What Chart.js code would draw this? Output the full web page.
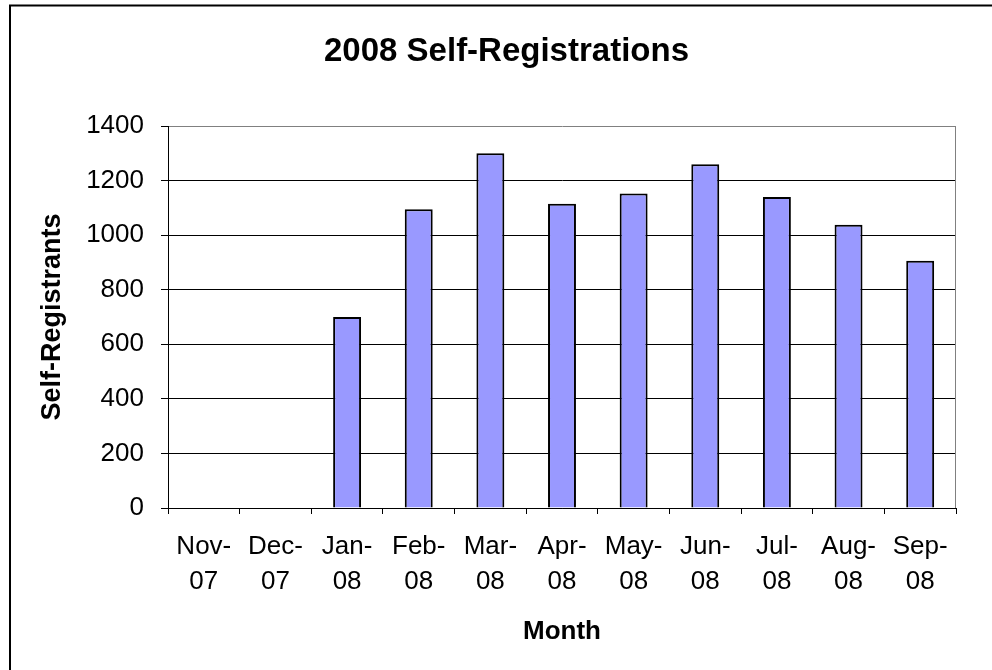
<!DOCTYPE html>
<html>
<head>
<meta charset="utf-8">
<script src="https://cdn.jsdelivr.net/npm/chart.js@4/dist/chart.umd.min.js"></script>
<style>
  html, body { margin: 0; padding: 0; background: #fff; }
  #wrap { width: 992px; height: 670px; }
</style>
</head>
<body>
<div id="wrap"><canvas id="c" width="992" height="670"></canvas></div>
<script>
const chartTitle = '2008 Self-Registrations';
const xAxisTitle = 'Month';
const yAxisTitle = 'Self-Registrants';
const categories = [['Nov-','07'],['Dec-','07'],['Jan-','08'],['Feb-','08'],['Mar-','08'],['Apr-','08'],['May-','08'],['Jun-','08'],['Jul-','08'],['Aug-','08'],['Sep-','08']];
const registrations = [0, 0, 700, 1095, 1300, 1115, 1153, 1260, 1140, 1038, 906];
const yMin = 0, yMax = 1400, yStep = 200;

const FONT = '"Liberation Sans", Arial, sans-serif';

const decor = {
  id: 'decor',
  beforeDraw(chart) {
    const ctx = chart.ctx;
    ctx.save();
    ctx.fillStyle = '#ffffff';
    ctx.fillRect(0, 0, chart.width, chart.height);
    ctx.restore();
  },
  beforeDatasetsDraw(chart) {
    const {ctx, chartArea} = chart;
    ctx.save();
    ctx.strokeStyle = '#808080';
    ctx.lineWidth = 1;
    ctx.beginPath();
    ctx.moveTo(Math.round(chartArea.right) - 0.5, chartArea.top);
    ctx.lineTo(Math.round(chartArea.right) - 0.5, chartArea.bottom);
    ctx.stroke();
    ctx.restore();
  },
  afterDraw(chart) {
    const ctx = chart.ctx;
    ctx.save();
    ctx.strokeStyle = '#000000';
    ctx.lineWidth = 2;
    ctx.beginPath();
    ctx.moveTo(10, chart.height + 5);
    ctx.lineTo(10, 5.5);
    ctx.lineTo(chart.width + 5, 5.5);
    ctx.stroke();
    ctx.fillStyle = '#000000';
    ctx.font = 'bold 33px ' + FONT;
    ctx.textAlign = 'center';
    ctx.textBaseline = 'alphabetic';
    ctx.fillText(chartTitle, 506.5, 61);
    ctx.restore();
  }
};

new Chart(document.getElementById('c'), {
  type: 'bar',
  data: {
    labels: categories,
    datasets: [{
      data: registrations,
      backgroundColor: '#9999FF',
      borderColor: '#000000',
      borderWidth: 2,
      borderSkipped: 'start',
      barPercentage: 0.39,
      categoryPercentage: 1.0
    }]
  },
  options: {
    responsive: false,
    animation: false,
    devicePixelRatio: 1,
    layout: { padding: { top: 126, right: 36, bottom: 0, left: 0 } },
    plugins: {
      legend: { display: false },
      title: { display: false },
      tooltip: { enabled: false }
    },
    scales: {
      x: {
        offset: true,
        afterFit(scale) { scale.height = 162; },
        grid: {
          display: true,
          offset: true,
          drawOnChartArea: false,
          drawTicks: true,
          tickLength: 6,
          color: '#000000',
          tickColor: '#000000'
        },
        border: { display: true, color: '#000000', width: 1 },
        ticks: {
          color: '#000000',
          font: { family: FONT, size: 26, lineHeight: 1.35 },
          padding: 15,
          maxRotation: 0,
          autoSkip: false
        },
        title: {
          display: true,
          text: xAxisTitle,
          color: '#000000',
          font: { family: FONT, size: 26, weight: 'bold', lineHeight: 1.2 },
          padding: { top: 0, bottom: 23 }
        }
      },
      y: {
        min: yMin,
        max: yMax,
        afterFit(scale) { scale.width = 168; },
        grid: {
          display: true,
          drawTicks: true,
          tickLength: 7,
          color: (ctx) => (ctx.tick && ctx.tick.value === yMax) ? '#808080' : '#000000',
          tickColor: '#000000',
          lineWidth: 1
        },
        border: { display: true, color: '#000000', width: 1 },
        ticks: {
          stepSize: yStep,
          color: '#000000',
          font: { family: FONT, size: 26 },
          padding: 17,
          callback: (v) => String(v)
        },
        title: {
          display: true,
          text: yAxisTitle,
          color: '#000000',
          font: { family: FONT, size: 27, weight: 'bold', lineHeight: 1.2 },
          padding: { top: 36, bottom: 0 }
        }
      }
    }
  },
  plugins: [decor]
});
</script>
</body>
</html>
